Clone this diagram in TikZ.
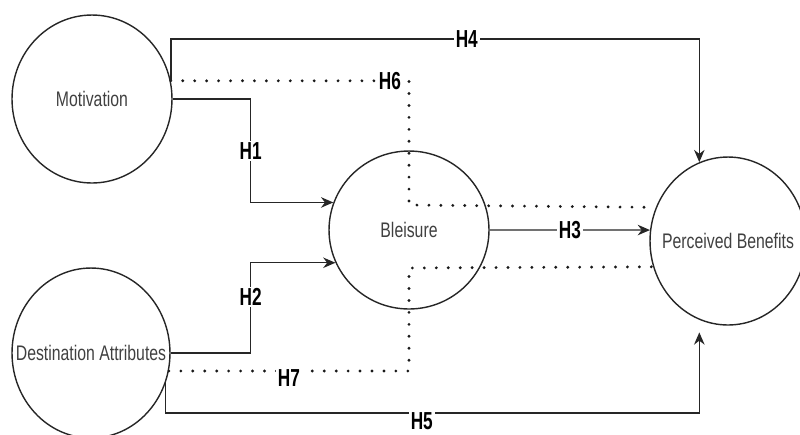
\documentclass[tikz,border=0pt]{standalone}
\usepackage{fontspec}
\setmainfont{Liberation Sans}
\usetikzlibrary{arrows.meta,shapes.geometric}

\newcommand{\ctext}[1]{\makebox[0pt]{\scalebox{0.75}[1]{#1}}}
\newcommand{\hlab}[1]{\scalebox{0.7}[1]{\bfseries #1}}

\begin{document}
\begin{tikzpicture}[x=0.02cm, y=-0.02cm,
  var/.style={ellipse, draw=black!85, line width=0.8pt, inner sep=0pt,
    text=black!75, font=\fontsize{12}{14}\selectfont},
  link/.style={draw=black!85, line width=0.8pt, -{Stealth[length=7pt,width=6pt]}},
  dotlink/.style={draw=black!90, line width=1.8pt, line cap=round,
    dash pattern=on 0pt off 6.8pt},
  hyp/.style={fill=white, inner sep=1pt, font=\fontsize{14}{16}\selectfont}]

  \useasboundingbox (0,0) rectangle (800,434);

  %--- Constructs ---
  \node[var, minimum width=3.2cm, minimum height=3.36cm] (mot) at (92,99) {\ctext{Motivation}};
  \node[var, minimum width=3.16cm, minimum height=3.4cm] (dest) at (91,353) {\ctext{Destination Attributes}};
  \node[var, minimum width=3.2cm, minimum height=3.16cm] (ble) at (409,230) {\ctext{Bleisure}};
  \node[var, minimum width=3.12cm, minimum height=3.36cm] (pb) at (728,241) {\ctext{Perceived Benefits}};

  %--- Mediated paths (dotted) ---
  \draw[dotlink] (mot.13) -| node[hyp, pos=0.46] (h6) {\hlab{H6}} ([yshift=0.5cm]ble.center) -- (pb.155);
  \draw[dotlink] (dest.-13) -| node[hyp, pos=0.25, yshift=-0.14cm] (h7) {\hlab{H7}} ([yshift=-0.76cm]ble.center) -- (pb.199);

  %--- Direct paths ---
  \draw[link] (mot.east) -- ++(78,0) |- node[hyp, pos=0.25] (h1) {\hlab{H1}} (ble.160);
  \draw[link] (dest.east) -- ++(80,0) |- node[hyp, pos=0.31] (h2) {\hlab{H2}} (ble.204);
  \draw[link] (ble.east) -- node[hyp] (h3) {\hlab{H3}} (pb.172);
  \draw[link] (mot.13) -- ++(0,-42) -| node[hyp, pos=0.28] (h4) {\hlab{H4}} (pb.110);
  \draw[link, shorten >=0.25cm] (dest.-22) -- ++(0,30) -| node[hyp, pos=0.24, yshift=-0.16cm] (h5) {\hlab{H5}} (pb.250);

\end{tikzpicture}
\end{document}
